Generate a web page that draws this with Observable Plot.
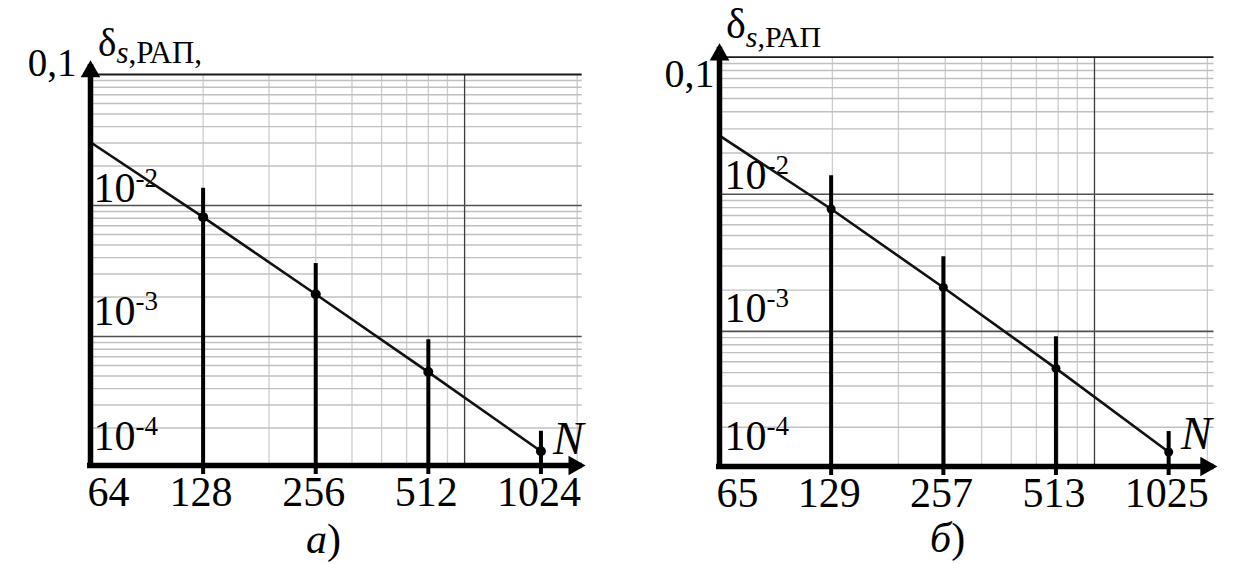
<!DOCTYPE html>
<html><head><meta charset="utf-8">
<script src="https://cdn.jsdelivr.net/npm/d3@7"></script>
<script src="https://cdn.jsdelivr.net/npm/@observablehq/plot@0.6"></script>
<style>
body{margin:0;background:#fff;}
#wrap{position:relative;width:1258px;height:564px;overflow:hidden;font-family:"Liberation Serif","Times New Roman",serif;color:#000;}
.panel{position:absolute;top:0;}
.t{position:absolute;white-space:nowrap;line-height:1;}
</style></head><body><div id="wrap"></div>
<script>
// ---- Panel а) data ----
const lineNA = [64, 128, 256, 512, 1024];
const lineValA = [0.0304, 0.00815, 0.0021, 0.000535, 0.000133];
const stemNA = [128, 256, 512, 1024];
const stemTopA = [0.01355, 0.00361, 0.000944, 0.000189];
const tickLabelsA = ["64", "128", "256", "512", "1024"];
// ---- Panel б) data ----
const lineNB = [65, 129, 257, 513, 1025];
const lineValB = [0.0268, 0.00781, 0.00209, 0.000537, 0.000132];
const stemNB = [129, 257, 513, 1025];
const stemTopB = [0.01368, 0.00351, 0.000914, 0.000186];
const tickLabelsB = ["65", "129", "257", "513", "1025"];
// ---- shared y labels ----
const yLabelValues = [1e-2, 1e-3, 1e-4];
const yLabelExps = ["-2", "-3", "-4"];
const yTopLabel = "0,1";

const FONT = "'Liberation Serif', 'Times New Roman', serif";

const cfgA = {width: 620, ml: 90, mr: 38.3, mt: 74, mb: 97, xMax: 1320,
  lineN: lineNA, lineVal: lineValA, stemN: stemNA, stemTop: stemTopA, tickLabels: tickLabelsA,
  yLabOff: [-4, -12, -18], yLabDx: 3, dotR: 5, arrowDx: -8, arrowDy: -3,
  topDx: -14, topDy: 1, topSize: 39};
const cfgB = {width: 638, ml: 99, mr: 44.5, mt: 56.7, mb: 96, xMax: 1354,
  lineN: lineNB, lineVal: lineValB, stemN: stemNB, stemTop: stemTopB, tickLabels: tickLabelsB,
  yLabOff: [-5, -9, -19], yLabDx: 5, dotR: 4.5, arrowDx: -8, arrowDy: -2.5,
  topDx: -5, topDy: 30, topSize: 40};

function yLabelMarks(c) {
  const base = c.lineN[0];
  const out = [];
  yLabelValues.forEach((v, i) => {
    out.push(Plot.text([v], {x: () => base, y: d => d, text: () => "10", textAnchor: "start", lineAnchor: "bottom",
      dx: c.yLabDx, dy: c.yLabOff[i], fontSize: 42, fill: "#000"}));
    out.push(Plot.text([v], {x: () => base, y: d => d, text: () => yLabelExps[i], textAnchor: "start", lineAnchor: "bottom",
      dx: c.yLabDx + 42, dy: c.yLabOff[i] - 15, fontSize: 27, fill: "#000"}));
  });
  return out;
}

const wrap = document.getElementById("wrap");
[cfgA, cfgB].forEach((c, idx) => {
  const base = c.lineN[0];
  const xMinor = d3.range(2, 10).map(k => k * base).concat([20 * base]);
  const xMajor = [10 * base];
  const yMinor = [-4, -3, -2].flatMap(e => d3.range(2, 10).map(k => k * Math.pow(10, e)));
  const yMajor = [1e-3, 1e-2];
  const linePts = c.lineN.map((x, i) => ({x, y: c.lineVal[i]}));
  const stems = c.stemN.map((x, i) => ({x, top: c.stemTop[i], y: c.lineVal[i + 1]}));
  const ticks = c.lineN.map((x, i) => ({x, label: c.tickLabels[i]}));
  const svg = Plot.plot({
    width: c.width, height: 564,
    marginLeft: c.ml, marginRight: c.mr, marginTop: c.mt, marginBottom: c.mb,
    x: {type: "log", domain: [base, c.xMax], axis: null},
    y: {type: "log", domain: [1e-4, 0.1], axis: null},
    style: {fontFamily: FONT, background: "transparent", overflow: "visible"},
    marks: [
      Plot.ruleX(xMinor, {stroke: "#cdcdcd", strokeWidth: 1.3}),
      Plot.ruleY(yMinor, {stroke: "#c0c0c0", strokeWidth: 1.4}),
      Plot.ruleX(xMajor, {stroke: "#3c3c3c", strokeWidth: 1.3}),
      Plot.ruleY(yMajor, {stroke: "#505050", strokeWidth: 1.6}),
      Plot.ruleY([0.1], {stroke: "#1a1a1a", strokeWidth: 1.8}),
      ...yLabelMarks(c),
      Plot.line(linePts, {x: "x", y: "y", stroke: "#111", strokeWidth: 2.6}),
      Plot.ruleX(stems, {x: "x", y1: "top", y2: () => 1e-4, stroke: "#000", strokeWidth: 4, insetBottom: -7}),
      Plot.dot(stems, {x: "x", y: "y", r: c.dotR, fill: "#000"}),
      Plot.ruleY([1e-4], {stroke: "#000", strokeWidth: 5.5, insetLeft: -3, dy: -2}),
      Plot.ruleX([base], {stroke: "#000", strokeWidth: 5.5, insetTop: -10, insetBottom: -1}),
      Plot.dot([1e-4], {y: d => d, frameAnchor: "right", symbol: "triangle", r: 7.3, rotate: 90, fill: "#000", stroke: "none", dx: c.arrowDx, dy: -2}),
      Plot.dot([0.1], {x: () => base, y: d => d, symbol: "triangle", r: 7.3, fill: "#000", stroke: "none", dy: c.arrowDy}),
      Plot.text(ticks.slice(0, 1), {x: "x", y: () => 1e-4, text: "label", textAnchor: "start", lineAnchor: "bottom", dx: -3, dy: 38, fontSize: 42, fill: "#000"}),
      Plot.text(ticks.slice(1), {x: "x", y: () => 1e-4, text: "label", lineAnchor: "bottom", dx: -2, dy: 38, fontSize: 42, fill: "#000"}),
      Plot.text([0.1], {x: () => base, y: d => d, text: () => yTopLabel, textAnchor: "end", lineAnchor: "bottom", dx: c.topDx, dy: c.topDy, fontSize: c.topSize, fill: "#000"})
    ]
  });
  svg.classList.add("panel");
  svg.style.left = (idx === 0 ? 0 : 620) + "px";
  wrap.appendChild(svg);
});

function addText(html, left, top, size, lh) {
  const d = document.createElement("div");
  d.className = "t";
  d.style.left = left + "px";
  d.style.top = top + "px";
  d.style.fontSize = size + "px";
  if (lh) d.style.lineHeight = lh;
  d.innerHTML = html;
  wrap.appendChild(d);
}
// titles
addText('δ<span style="font-size:31px;position:relative;top:7px;"><i>s</i>,РАП,</span>', 98, 23, 39);
addText('δ<span style="font-size:30px;position:relative;top:9px;"><i>s</i>,РАП</span>', 726, 3, 42);
// axis name N
addText('<i>N</i>', 553, 416, 46);
addText('<i>N</i>', 1181, 411, 46);
// captions
addText('<i>а</i>)', 306, 527, 42, 0.6);
addText('<i>б</i>)', 930, 526, 42, 0.6);
</script></body></html>
